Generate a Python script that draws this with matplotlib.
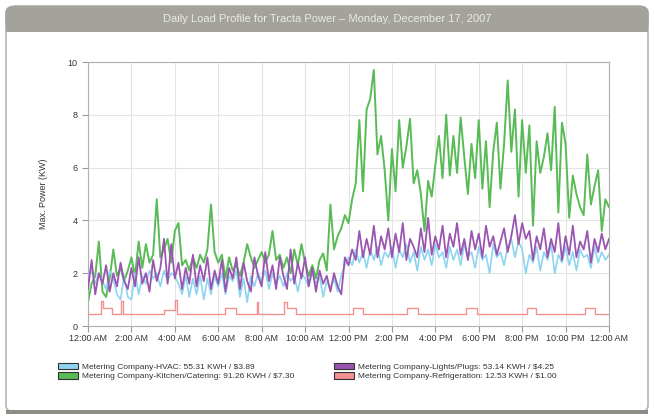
import numpy as np
import matplotlib
matplotlib.use("Agg")
import matplotlib.pyplot as plt
from matplotlib.patches import Patch, FancyBboxPatch, Rectangle

plt.rcParams['font.family'] = ['Liberation Sans', 'DejaVu Sans']

# 10-minute readings, 12:00 AM -> 12:00 AM next day (145 points)
kitchen = [0.9, 1.6, 1.9, 3.2, 1.3, 1.1,
           1.8, 2.9, 1.9, 2.2, 1.7, 2.1,
           2.6, 1.9, 3.2, 2.2, 3.1, 2.4,
           2.7, 4.8, 2.6, 2.9, 3.3, 2.4,
           3.6, 3.9, 2.3, 2.5, 2.1, 2.6,
           2.2, 2.7, 2.4, 2.9, 4.6, 2.8,
           2.4, 2.7, 1.8, 2.6, 2.1, 2.3,
           1.9, 2.4, 3.1, 2.6, 2.2, 2.5,
           2.8, 2.4, 2.7, 3.6, 2.5, 2.7,
           2.2, 2.6, 2.0, 2.9, 2.3, 3.1,
           2.4, 1.9, 2.3, 1.8, 2.5, 2.75,
           2.1, 4.6, 2.9, 3.4, 3.7, 4.2,
           3.9, 4.8, 5.4, 7.8, 5.1, 8.2,
           8.6, 9.7, 6.5, 7.2, 5.9, 4.0,
           6.7, 5.1, 7.8, 6.0, 6.8, 7.85,
           5.4, 5.9, 5.0, 3.6, 5.5, 4.9,
           6.1, 7.2, 5.6, 8.0, 5.7, 7.2,
           5.8, 7.9, 6.4, 5.0, 6.9, 5.6,
           7.8, 5.2, 7.0, 4.5, 6.6, 7.7,
           5.2, 6.9, 9.3, 6.6, 8.2, 4.9,
           7.8, 5.8, 7.6, 3.8, 7.0, 5.8,
           6.4, 7.3, 5.9, 8.3, 4.3, 7.7,
           6.9, 4.1, 5.7, 5.0, 4.5, 4.2,
           6.5, 4.6, 5.3, 5.9, 3.6, 4.8,
           4.5]

lights = [1.4, 2.5, 1.2, 2.0, 1.6, 2.3,
          1.3, 2.0, 1.5, 2.4, 1.7, 1.4,
          2.2, 1.5, 2.6, 1.6, 2.0, 1.3,
          2.5, 1.7, 2.2, 3.3, 1.6, 3.1,
          1.8, 2.4, 1.4, 2.2, 1.6, 2.7,
          1.5, 2.3, 1.7, 2.6, 1.4, 2.1,
          1.6, 2.5, 1.3, 2.2, 1.8, 2.6,
          1.4, 2.4, 1.7, 1.3, 2.6, 1.9,
          1.5, 2.8, 1.7, 2.3, 1.4, 2.6,
          1.9, 1.4, 2.9, 1.6, 2.4, 1.8,
          2.6, 1.5, 2.2, 1.3, 2.1, 1.6,
          1.9, 1.3, 2.0, 1.5, 1.2, 2.6,
          2.3, 2.9, 2.5, 3.6, 2.6, 3.3,
          2.7, 3.8, 2.6, 3.4, 2.9, 3.7,
          2.6, 3.5, 2.8, 3.9, 2.5, 3.3,
          3.0, 2.6, 3.7, 2.8, 4.1, 2.7,
          3.4, 2.9, 3.8, 2.6, 3.5, 3.0,
          3.9, 2.7, 3.3, 2.5, 3.6, 2.9,
          3.5, 2.6, 3.8, 3.0, 3.4, 2.7,
          3.2, 3.7, 2.8, 3.4, 4.2, 3.1,
          3.9, 3.3, 3.6, 2.5, 3.4, 2.9,
          3.7, 2.6, 3.3, 2.8, 3.9, 2.5,
          3.4, 2.7, 3.8, 2.6, 3.2, 2.9,
          3.6, 2.4, 3.3, 2.8, 3.5, 2.9,
          3.3]

hvac = [1.9, 2.1, 1.6, 2.0, 1.7, 1.4,
        2.1, 1.8, 1.2, 1.0, 1.9, 1.1,
        1.0, 2.0, 1.2, 1.9, 1.6, 2.1,
        1.8, 2.0, 1.5, 2.1, 1.7, 2.0,
        1.9, 1.6, 1.2, 1.9, 1.1, 1.8,
        1.2, 1.9, 1.0, 1.8, 1.2, 1.9,
        1.5, 2.0, 1.2, 1.9, 1.7, 2.1,
        1.1, 1.8, 0.9, 1.9, 1.5, 2.0,
        1.7, 2.1, 1.4, 2.0, 1.6, 1.9,
        1.5, 2.0, 1.7, 1.9, 1.3, 2.0,
        1.8, 1.5, 2.0, 1.6, 1.9, 1.1,
        1.7, 1.4, 1.8, 1.3, 1.9, 2.3,
        2.6, 2.3, 2.9, 2.4, 2.8, 2.2,
        2.9, 2.5, 3.0, 2.3, 2.8, 2.6,
        3.0, 2.2, 2.9, 2.6, 3.1, 2.4,
        2.8, 2.1, 3.0, 2.5, 2.9, 2.3,
        3.1, 2.6, 2.8, 2.2, 3.0, 2.5,
        2.9, 2.3, 3.1, 2.6, 2.8, 2.2,
        3.0, 2.5, 2.7, 2.0, 3.1, 2.6,
        2.8, 2.3, 3.0, 3.3, 2.6, 3.2,
        2.9, 2.0, 2.7, 2.4, 3.0, 2.1,
        2.8, 2.5, 3.1, 2.0, 2.7, 2.4,
        3.0, 2.3, 2.8, 2.1, 2.9, 2.6,
        2.7, 2.2, 3.0, 2.4, 2.8, 2.5,
        2.7]

# refrigeration cycles (hour, kW) - step changes
fridge_t = [0, 0.6, 0.7, 1.1, 1.5, 1.6, 3.5, 4.0, 4.1, 6.3, 6.8, 7.8, 7.85,
            9.05, 9.15, 9.6, 12.2, 12.65, 14.7, 15.2, 17.4, 17.9, 20.2, 20.65,
            22.9, 23.35, 24]
fridge = [0.45, 0.95, 0.68, 0.45, 0.95, 0.45, 0.62, 1.0, 0.45, 0.68, 0.45, 0.92, 0.45,
          0.92, 0.7, 0.45, 0.7, 0.45, 0.7, 0.45, 0.7, 0.45, 0.7, 0.45,
          0.7, 0.45, 0.45]

tick_labels = ["12:00 AM", "2:00 AM", "4:00 AM", "6:00 AM", "8:00 AM", "10:00 AM",
               "12:00 PM", "2:00 PM", "4:00 PM", "6:00 PM", "8:00 PM", "10:00 PM",
               "12:00 AM"]
legend_labels = ["Metering Company-HVAC: 55.31 KWH / $3.89",
                 "Metering Company-Kitchen/Catering: 91.26 KWH / $7.30",
                 "Metering Company-Lights/Plugs: 53.14 KWH / $4.25",
                 "Metering Company-Refrigeration: 12.53 KWH / $1.00"]

c_hvac = "#8dd4f0"
c_kitchen = "#58bb55"
c_lights = "#9a55b0"
c_fridge = "#f39090"

t = np.arange(len(kitchen)) / 6.0

fig = plt.figure(figsize=(6.54, 4.18), dpi=100)
fig.patch.set_facecolor("white")

# panel frame and title bar
frame = FancyBboxPatch((6 / 654, 6 / 418), 642 / 654, 404 / 418,
                       boxstyle="round,pad=0,rounding_size=0.015",
                       transform=fig.transFigure, facecolor="white",
                       edgecolor="#b5b5ae", linewidth=1.2, zorder=0)
fig.patches.append(frame)
bar = FancyBboxPatch((6 / 654, 388 / 418), 642 / 654, 24 / 418,
                     boxstyle="round,pad=0,rounding_size=0.015",
                     transform=fig.transFigure, facecolor="#a3a39b",
                     edgecolor="#a3a39b", zorder=1)
fig.patches.append(bar)
fig.patches.append(Rectangle((6 / 654, 386 / 418), 642 / 654, 6 / 418,
                             transform=fig.transFigure, facecolor="#a3a39b",
                             edgecolor="none", zorder=1))
fig.patches.append(Rectangle((6 / 654, 4 / 418), 642 / 654, 4 / 418,
                             transform=fig.transFigure, facecolor="#8d8d88",
                             edgecolor="none", zorder=1))
fig.text(0.5, 399 / 418, "Daily Load Profile for Tracta Power \u2013 Monday, December 17, 2007",
         ha="center", va="center", color="#ecece6", fontsize=8)

ax = fig.add_axes([88 / 654, 92 / 418, 521 / 654, 264 / 418])
ax.set_zorder(5)
ax.set_facecolor("white")

ax.plot(t, kitchen, color=c_kitchen, lw=1.4, zorder=2)
ax.plot(t, hvac, color=c_hvac, lw=1.2, zorder=3)
ax.plot(t, lights, color=c_lights, lw=1.3, zorder=4)
ax.step(fridge_t, fridge, where="post", color=c_fridge, lw=1.0, zorder=5)

ax.set_xlim(0, 24)
ax.set_ylim(0, 10)
ax.set_xticks(np.arange(0, 25, 2))
ax.set_xticklabels(tick_labels, fontsize=6.5, color="#333333")
ax.set_yticks(np.arange(0, 11, 2))
ax.tick_params(axis="y", labelsize=6.5, colors="#333333", length=4, color="#999999")
ax.tick_params(axis="x", length=4, color="#999999", pad=2)
ax.grid(True, color="#e4e4e4", lw=0.8)
ax.set_axisbelow(True)
for s in ax.spines.values():
    s.set_color("#b0b0b0")
    s.set_linewidth(0.8)
ax.set_ylabel("Max. Power (KW)", fontsize=6.5, color="#333333", labelpad=14)

handles = [Patch(facecolor=c, edgecolor="#333333", linewidth=0.8)
           for c in [c_hvac, c_kitchen, c_lights, c_fridge]]
leg = fig.legend(handles, legend_labels, ncol=2, loc="upper left",
                 bbox_to_anchor=(50 / 654, 63 / 418), frameon=False,
                 fontsize=6, handlelength=2.4, handleheight=0.9,
                 labelspacing=0.15, columnspacing=4.8, handletextpad=0.5,
                 labelcolor="#333333")
leg.set_zorder(6)

fig.savefig("out.png", dpi=100, facecolor="white")
